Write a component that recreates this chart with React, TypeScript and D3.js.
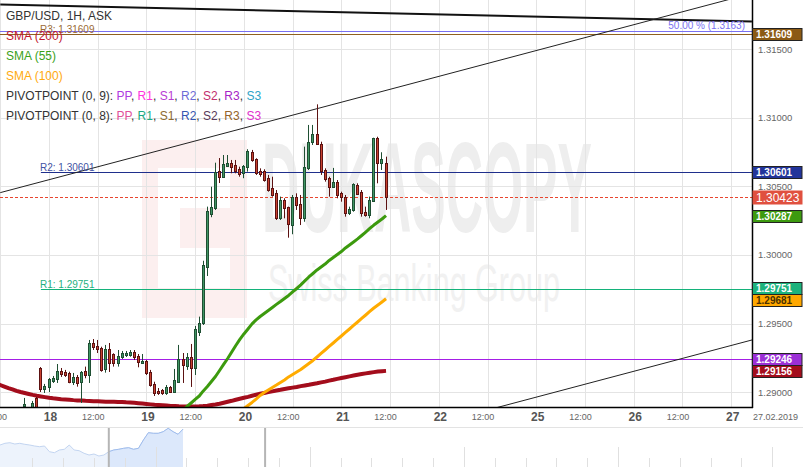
import React from 'react';
import * as d3 from 'd3';

const W = 803;
const H = 467;
const PLOT_W = 752;
const PLOT_H = 407;
const FONT = "Arial, 'Liberation Sans', Helvetica, sans-serif";

// ---- axis data ----
const dayLabels = ['17', '18', '19', '20', '21', '22', '25', '26', '27'];
const halfDayLabel = '12:00';
const lastDateLabel = '27.02.2019';
const priceTicks = [1.29, 1.295, 1.3, 1.305, 1.31, 1.315];

// ---- legend ----
const legendTitle = 'GBP/USD, 1H, ASK';
const smaNames = ['SMA (200)', 'SMA (55)', 'SMA (100)'];
const smaLegendColors = ['#c0182f', '#3aa11a', '#ffaa10'];
const pivotTitles = ['PIVOTPOINT (0, 9): ', 'PIVOTPOINT (0, 8): '];
const pivotNames = ['PP', 'R1', 'S1', 'R2', 'S2', 'R3', 'S3'];
const pivot9Colors = ['#b03be0', '#ff33dd', '#b83cd4', '#6b6bd6', '#c2306e', '#a524c6', '#2ea3c6'];
const pivot8Colors = ['#e0509a', '#1aa883', '#8c6a30', '#3555b0', '#5a3a5a', '#94642a', '#e030cc'];

// ---- hourly candles (slot = hours from 17 Feb 00:00 on the trading axis) ----
const FIRST_SLOT = 18;
const opens = [
  1.28900, 1.28879, 1.28879, 1.28959, 1.29177, 1.29026, 1.29039, 1.29082, 1.29097, 1.29157,
  1.29148, 1.29141, 1.29075, 1.29112, 1.29077, 1.29157, 1.29126, 1.29361, 1.29337, 1.29323,
  1.29170, 1.29316, 1.29279, 1.29214, 1.29257, 1.29272, 1.29274, 1.29294, 1.29265, 1.29216,
  1.29230, 1.29148, 1.29061, 1.29010, 1.29017, 1.28993, 1.29039, 1.29005, 1.29077, 1.29243,
  1.29192, 1.29259, 1.29177, 1.29441, 1.29507, 1.29915, 1.30299, 1.30340, 1.30612, 1.30570,
  1.30648, 1.30668, 1.30653, 1.30624, 1.30595, 1.30639, 1.30752, 1.30699, 1.30612, 1.30612,
  1.30559, 1.30486, 1.30454, 1.30272, 1.30401, 1.30347, 1.30218, 1.30425, 1.30369, 1.30267,
  1.30631, 1.30825, 1.30879, 1.30806, 1.30617, 1.30561, 1.30495, 1.30534, 1.30451, 1.30425,
  1.30309, 1.30328, 1.30510, 1.30459, 1.30315, 1.30291, 1.30393, 1.30850, 1.30668, 1.30668,
];
const highs = [
  1.28959, 1.28886, 1.28937, 1.28966, 1.29184, 1.29061, 1.29104, 1.29119, 1.29206, 1.29177,
  1.29163, 1.29150, 1.29141, 1.29126, 1.29155, 1.29187, 1.29381, 1.29388, 1.29381, 1.29332,
  1.29345, 1.29359, 1.29284, 1.29308, 1.29301, 1.29301, 1.29308, 1.29308, 1.29279, 1.29279,
  1.29235, 1.29163, 1.29077, 1.29031, 1.29024, 1.29053, 1.29046, 1.29170, 1.29345, 1.29286,
  1.29286, 1.29352, 1.29483, 1.29551, 1.29958, 1.30352, 1.30497, 1.30672, 1.30706, 1.30728,
  1.30728, 1.30692, 1.30692, 1.30643, 1.30655, 1.30770, 1.30765, 1.30704, 1.30631, 1.30624,
  1.30583, 1.30570, 1.30473, 1.30425, 1.30413, 1.30352, 1.30437, 1.30449, 1.30437, 1.30789,
  1.30947, 1.30947, 1.31097, 1.30825, 1.30631, 1.30570, 1.30634, 1.30546, 1.30461, 1.30437,
  1.30352, 1.30522, 1.30522, 1.30473, 1.30352, 1.30425, 1.30854, 1.30861, 1.30748, 1.30716,
];
const lows = [
  1.28857, 1.28842, 1.28857, 1.28857, 1.29002, 1.28995, 1.29002, 1.29068, 1.29068, 1.29112,
  1.29112, 1.29066, 1.29053, 1.29041, 1.28922, 1.29102, 1.29068, 1.29308, 1.29286, 1.29150,
  1.29143, 1.29148, 1.29187, 1.29187, 1.29243, 1.29257, 1.29259, 1.29235, 1.29182, 1.29214,
  1.29126, 1.29041, 1.28973, 1.28981, 1.28981, 1.28981, 1.28995, 1.29000, 1.29075, 1.29068,
  1.29163, 1.29039, 1.29126, 1.29410, 1.29490, 1.29847, 1.30275, 1.30328, 1.30524, 1.30568,
  1.30643, 1.30595, 1.30595, 1.30570, 1.30559, 1.30607, 1.30679, 1.30583, 1.30570, 1.30534,
  1.30461, 1.30425, 1.30255, 1.30255, 1.30267, 1.30126, 1.30151, 1.30328, 1.30218, 1.30242,
  1.30619, 1.30801, 1.30801, 1.30583, 1.30534, 1.30425, 1.30488, 1.30413, 1.30388, 1.30279,
  1.30291, 1.30315, 1.30437, 1.30279, 1.30279, 1.30267, 1.30388, 1.30522, 1.30619, 1.30328,
];
const closes = [
  1.28915, 1.28857, 1.28922, 1.28879, 1.29024, 1.29046, 1.29097, 1.29104, 1.29155, 1.29133,
  1.29128, 1.29075, 1.29114, 1.29070, 1.29148, 1.29128, 1.29359, 1.29328, 1.29316, 1.29163,
  1.29316, 1.29214, 1.29214, 1.29265, 1.29286, 1.29289, 1.29294, 1.29255, 1.29223, 1.29228,
  1.29139, 1.29053, 1.28997, 1.28997, 1.28993, 1.29039, 1.29005, 1.29090, 1.29243, 1.29199,
  1.29259, 1.29175, 1.29461, 1.29507, 1.29927, 1.30323, 1.30352, 1.30607, 1.30570, 1.30663,
  1.30672, 1.30643, 1.30614, 1.30590, 1.30648, 1.30757, 1.30692, 1.30599, 1.30588, 1.30546,
  1.30473, 1.30437, 1.30272, 1.30401, 1.30340, 1.30224, 1.30425, 1.30364, 1.30267, 1.30643,
  1.30825, 1.30879, 1.30806, 1.30612, 1.30553, 1.30495, 1.30532, 1.30437, 1.30419, 1.30309,
  1.30335, 1.30515, 1.30444, 1.30306, 1.30291, 1.30401, 1.30850, 1.30668, 1.30699, 1.30423,
];

// ---- moving averages (first value's candle index) ----
const SMA200_FIRST = -7;
const sma200 = [
  1.29064, 1.29053, 1.29042, 1.29031, 1.29021, 1.29010, 1.29002,
  1.28995, 1.28988, 1.28981, 1.28975, 1.28970, 1.28965, 1.28960, 1.28956, 1.28953, 1.28950,
  1.28948, 1.28946, 1.28943, 1.28941, 1.28940, 1.28938, 1.28937, 1.28935, 1.28934, 1.28933,
  1.28932, 1.28932, 1.28931, 1.28930, 1.28929, 1.28927, 1.28926, 1.28924, 1.28921, 1.28918,
  1.28915, 1.28912, 1.28909, 1.28907, 1.28905, 1.28903, 1.28901, 1.28900, 1.28898, 1.28897,
  1.28897, 1.28897, 1.28897, 1.28898, 1.28900, 1.28903, 1.28907, 1.28911, 1.28917, 1.28924,
  1.28931, 1.28938, 1.28946, 1.28953, 1.28960, 1.28967, 1.28975, 1.28982, 1.28989, 1.28995,
  1.29001, 1.29007, 1.29013, 1.29018, 1.29024, 1.29029, 1.29034, 1.29039, 1.29045, 1.29050,
  1.29055, 1.29061, 1.29066, 1.29072, 1.29078, 1.29085, 1.29091, 1.29098, 1.29104, 1.29110,
  1.29116, 1.29122, 1.29128, 1.29133, 1.29138, 1.29143, 1.29147, 1.29151, 1.29154, 1.29156,
];
const SMA55_FIRST = 38;
const sma55 = [
  1.28842, 1.28871, 1.28897, 1.28922, 1.28948, 1.28973, 1.29010, 1.29042, 1.29079, 1.29115,
  1.29159, 1.29203, 1.29246, 1.29294, 1.29341, 1.29385, 1.29425, 1.29461, 1.29498, 1.29527,
  1.29552, 1.29574, 1.29596, 1.29618, 1.29640, 1.29661, 1.29683, 1.29705, 1.29731, 1.29756,
  1.29782, 1.29811, 1.29840, 1.29865, 1.29891, 1.29913, 1.29934, 1.29960, 1.29982, 1.30004,
  1.30025, 1.30051, 1.30073, 1.30095, 1.30117, 1.30142, 1.30167, 1.30193, 1.30218, 1.30240,
  1.30262, 1.30287,
];
const SMA100_FIRST = 53;
const sma100 = [
  1.28857, 1.28882, 1.28904, 1.28926, 1.28951, 1.28977, 1.28999,
  1.29017, 1.29035, 1.29053, 1.29072, 1.29090, 1.29112, 1.29130, 1.29148, 1.29166, 1.29188,
  1.29210, 1.29232, 1.29257, 1.29283, 1.29308, 1.29334, 1.29359, 1.29385, 1.29410, 1.29436,
  1.29461, 1.29487, 1.29512, 1.29538, 1.29563, 1.29589, 1.29614, 1.29636, 1.29658, 1.29681,
];

// ---- drawn levels ----
const lastPrice = 1.30423;
const levelNames = ['50.00 %', 'R3', 'R2', 'R1', 'PP'];
const levelValues = [1.3163, 1.31609, 1.30601, 1.29751, 1.29246];
const levelStartSlots = [0, 0, 22, 22, 0];
const levelColors = ['#7a6ff0', '#8f5f1f', '#1f2f8c', '#14b27a', '#a41ee6'];
const levelLabelColors = ['#7b72f2', '#9a6a35', '#4253a4', '#1fb07f', ''];

// ---- trend lines as [slot, price] ----
const trendTop: [number, number][] = [[12, 1.31824], [197.1, 1.317]];
const channelUpper: [number, number][] = [[12, 1.30454], [197.1, 1.31905]];
const channelLower: [number, number][] = [[130, 1.28855], [198, 1.29388]];

// ---- price boxes on right axis ----
const boxValues = [1.31609, 1.30601, 1.30287, 1.29751, 1.29681, 1.29246, 1.29156];
const boxFills = ['#8b5a14', '#22349a', '#3d9a10', '#1db27c', '#ffa800', '#9b2fd6', '#a30d1c'];
const boxTextColors = ['#fff', '#fff', '#fff', '#fff', '#4a3000', '#fff', '#fff'];

// ---- navigator (overview) ----
const navValues = [
  1.29528, 1.29679, 1.29733, 1.29617, 1.29679, 1.29590, 1.29528, 1.29439, 1.29377, 1.29439,
  1.28932, 1.28843, 1.29083, 1.29145, 1.29528, 1.29083, 1.29021, 1.28789, 1.28638, 1.28727,
  1.28549, 1.28638, 1.28932, 1.29083, 1.29145, 1.29234, 1.29288, 1.29145, 1.29234, 1.29973,
  1.30623, 1.30569, 1.30569, 1.30712, 1.31014, 1.30712, 1.30480, 1.30941,
];
const navWindow = [22, 53.6];

export default function App() {
  const x = d3.scaleLinear().domain([24, 192]).range([49, 731.2]);
  const y = d3.scaleLinear().domain([1.29, 1.315]).range([392.3, 49.0]);
  const cr = (v: number) => Math.round(v) + 0.5;

  const smaPath = (vals: number[], first: number) =>
    d3.line<number>().x((_, i) => x(FIRST_SLOT + first + i)).y((d) => y(d))(vals) || '';
  const trendPath = (pts: [number, number][]) =>
    d3.line<[number, number]>().x((d) => x(d[0])).y((d) => y(d[1]))(pts) || '';

  const halfDays = d3.range(0, 18);
  const vGrid = halfDays.map((k) => x(12 * k)).filter((v) => v >= 0 && v <= PLOT_W);

  const bh = 12;
  const boxes = boxValues.map((v, i) => ({ v, i, cy: y(v) })).sort((a, b) => a.cy - b.cy);
  for (let k = 1; k < boxes.length; k++) {
    const d = boxes[k].cy - boxes[k - 1].cy;
    if (d < bh) {
      const ov = bh - d;
      boxes[k - 1].cy -= ov / 2;
      boxes[k].cy += ov / 2;
    }
  }

  const navX = d3.scaleLinear().domain([0, navValues.length - 1]).range([0, 183]);
  const navY = d3.scaleLinear().domain([1.2757, 1.3113]).range([467, 427]);
  const navArea = d3.area<number>().x((_, i) => navX(i)).y0(467).y1((d) => navY(d))(navValues) || '';
  const navLine = d3.line<number>().x((_, i) => navX(i)).y((d) => navY(d))(navValues) || '';
  const navTicks = d3.range(1, 27);

  return (
    <svg width={W} height={H} style={{ position: 'absolute', left: 0, top: 0, background: '#fff' }} fontFamily={FONT}>
      <defs>
        <clipPath id="plotClip"><rect x={0} y={0} width={PLOT_W} height={PLOT_H} /></clipPath>
        <clipPath id="navSel"><rect x={navX(navWindow[0])} y={427} width={navX(navWindow[1]) - navX(navWindow[0])} height={40} /></clipPath>
      </defs>
      <rect x={0} y={0} width={W} height={H} fill="#fff" />

      <g clipPath="url(#plotClip)">
        {/* watermark */}
        <rect x={142} y={140} width={105} height={178} fill="#fcefef" />
        <rect x={158} y={168} width={72} height={120} fill="#fff" />
        <rect x={180} y={208} width={50} height={40} fill="#fcefef" />
        <text x={262} y={232} fontSize={128} fontWeight="bold" fill="#eeeeee" textLength={330} lengthAdjust="spacingAndGlyphs">DUKASCOPY</text>
        <text x={268} y={301} fontSize={52} fill="#f1f1f1" textLength={292} lengthAdjust="spacingAndGlyphs">Swiss Banking Group</text>

        {/* grid */}
        {priceTicks.map((p) => (
          <line key={'hg' + p} x1={0} x2={PLOT_W} y1={cr(y(p))} y2={cr(y(p))} stroke="#e4e4e4" />
        ))}
        {vGrid.map((v, i) => (
          <line key={'vg' + i} x1={cr(v)} x2={cr(v)} y1={0} y2={PLOT_H} stroke="#e4e4e4" />
        ))}

        {/* horizontal levels */}
        {levelValues.map((v, i) => (
          <line key={'lv' + i} x1={Math.max(0, x(levelStartSlots[i]))} x2={PLOT_W} y1={cr(y(v))} y2={cr(y(v))} stroke={levelColors[i]} strokeWidth={1} />
        ))}
        <line x1={0} x2={PLOT_W} y1={cr(y(lastPrice))} y2={cr(y(lastPrice))} stroke="#e8452f" strokeDasharray="3,2" />

        {/* trend lines */}
        <path d={trendPath(trendTop)} stroke="#111" strokeWidth={2} fill="none" />
        <path d={trendPath(channelUpper)} stroke="#222" strokeWidth={1} fill="none" />
        <path d={trendPath(channelLower)} stroke="#222" strokeWidth={1} fill="none" />

        {/* SMAs */}
        <path d={smaPath(sma200, SMA200_FIRST)} stroke="#a30d1c" strokeWidth={4} fill="none" strokeLinejoin="round" />
        <path d={smaPath(sma100, SMA100_FIRST)} stroke="#ffab00" strokeWidth={3} fill="none" strokeLinejoin="round" />
        <path d={smaPath(sma55, SMA55_FIRST)} stroke="#3c9a0e" strokeWidth={3} fill="none" strokeLinejoin="round" />

        {/* candles */}
        {opens.map((o, i) => {
          const c = closes[i];
          const cx = x(FIRST_SLOT + i);
          const n = Math.floor(cx);
          const up = c >= o;
          const dark = up ? '#1f4f33' : '#5c1212';
          const fill = up ? '#3f9563' : '#c8412f';
          const top = Math.round(y(Math.max(o, c)));
          const bot = Math.max(Math.round(y(Math.min(o, c))), top + 1);
          return (
            <g key={'c' + i}>
              <line x1={n + 0.5} x2={n + 0.5} y1={y(highs[i])} y2={y(lows[i])} stroke={dark} strokeWidth={1} />
              <rect x={n - 1} y={top} width={3} height={bot - top + 1} fill={dark} />
              {bot - top >= 2 && <rect x={n} y={top + 1} width={1} height={bot - top - 1} fill={fill} />}
            </g>
          );
        })}

        {/* level labels */}
        <text x={745} y={cr(y(levelValues[0])) - 3} fontSize={10} fill={levelLabelColors[0]} textAnchor="end">
          {`${levelNames[0]} (${levelValues[0]})`}
        </text>
        {[1, 2, 3].map((i) => (
          <text key={'ll' + i} x={40} y={cr(y(levelValues[i])) - 2} fontSize={10} fill={levelLabelColors[i]}>
            {`${levelNames[i]}: ${levelValues[i].toFixed(5)}`}
          </text>
        ))}
      </g>

      {/* legend */}
      <g fontSize={12}>
        <text x={6} y={20} fill="#333">{legendTitle}</text>
        {smaNames.map((s, i) => (
          <text key={s} x={6} y={40 + 20 * i} fill={smaLegendColors[i]}>{s}</text>
        ))}
        {pivotTitles.map((t, r) => {
          const cols = r === 0 ? pivot9Colors : pivot8Colors;
          return (
            <text key={t} x={6} y={100 + 20 * r} fill="#333">
              {t}
              {pivotNames.map((n, j) => (
                <React.Fragment key={n}>
                  <tspan fill={cols[j]}>{n}</tspan>
                  {j < pivotNames.length - 1 && <tspan fill="#333">, </tspan>}
                </React.Fragment>
              ))}
            </text>
          );
        })}
      </g>

      {/* axes */}
      <line x1={PLOT_W + 0.5} x2={PLOT_W + 0.5} y1={0} y2={PLOT_H + 1} stroke="#000" strokeWidth={1.5} />
      <line x1={0} x2={PLOT_W + 1} y1={PLOT_H + 0.5} y2={PLOT_H + 0.5} stroke="#000" strokeWidth={1.5} />

      {priceTicks.map((p) => (
        <text key={'pt' + p} x={758} y={y(p) + 3.5} fontSize={9.5} fill="#666">{p.toFixed(5)}</text>
      ))}

      {halfDays.map((k) => {
        const xv = x(12 * k);
        if (k === 17) {
          return <text key={'xl' + k} x={xv - 4.5} y={420} fontSize={9} fill="#666" textAnchor="middle">{lastDateLabel}</text>;
        }
        if (k % 2 === 0) {
          return <text key={'xl' + k} x={xv + 1.5} y={421} fontSize={12} fontWeight="bold" fill="#555" textAnchor="middle">{dayLabels[k / 2]}</text>;
        }
        return <text key={'xl' + k} x={xv - 4.5} y={420} fontSize={9} fill="#666" textAnchor="middle">{halfDayLabel}</text>;
      })}

      {/* price boxes */}
      {boxes.map((b) => (
        <g key={'bx' + b.i}>
          <rect x={752.5} y={Math.round(b.cy - bh / 2) + 0.5} width={49.5} height={bh} fill={boxFills[b.i]} stroke="#222" strokeWidth={1} />
          <text x={756} y={Math.round(b.cy - bh / 2) + 10} fontSize={10} fontWeight="bold" fill={boxTextColors[b.i]}>{b.v.toFixed(5)}</text>
        </g>
      ))}
      <rect x={752.5} y={Math.round(y(lastPrice)) - 6.5} width={50} height={14} fill="#e0503f" />
      <text x={756} y={Math.round(y(lastPrice)) + 5} fontSize={12} fill="#fff">{lastPrice.toFixed(5)}</text>

      {/* navigator */}
      <line x1={0} x2={W} y1={427.5} y2={427.5} stroke="#e3e3e3" />
      <path d={navArea} fill="#edf3fc" />
      <path d={navLine} fill="none" stroke="#c3d5f1" />
      <g clipPath="url(#navSel)">
        <path d={navArea} fill="#dce8fb" />
        <path d={navLine} fill="none" stroke="#9fbcec" />
      </g>
      {navTicks.map((k) => {
        const tx = cr(1.5 + 30.83 * k);
        return <line key={'nt' + k} x1={tx} x2={tx} y1={k % 5 === 0 ? 447 : 458} y2={467} stroke="#e0e0e0" />;
      })}
      {navWindow.map((w, i) => (
        <line key={'nh' + i} x1={navX(w)} x2={navX(w)} y1={428} y2={467} stroke="#b5b5b5" strokeWidth={2} />
      ))}
    </svg>
  );
}
